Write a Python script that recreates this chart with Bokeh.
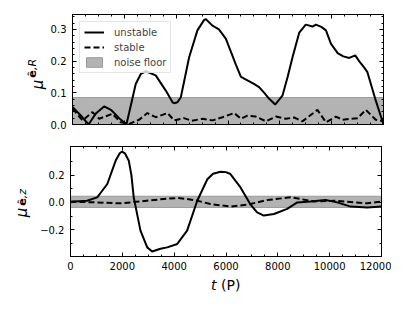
import numpy as np
from bokeh.plotting import figure
from bokeh.layouts import column, row
from bokeh.models import (Range1d, LinearAxis, SingleIntervalTicker, FixedTicker,
                          CustomJSTickFormatter, Legend, LegendItem, Label)
from bokeh.embed import file_html
from bokeh.resources import INLINE

FONT = "DejaVu Sans"

# ---------------- data ----------------
t_span = [0, 12000]

tR_unstable = [0, 300, 620, 900, 1220, 1500, 1800, 2080, 2250, 2440, 2640, 2830, 3210, 3600,
               3860, 3920, 4050, 4180, 4500, 4820, 5080, 5150, 5400, 5650, 5920, 6300, 6500,
               6750, 7000, 7200, 7400, 7590, 7820, 8100, 8300, 8490, 8750, 9000, 9260, 9390,
               9600, 9780, 9970, 10230, 10450, 10680, 10910, 11060, 11250, 11380, 11700, 12000]
muR_unstable = [0.055, 0.030, 0.000, 0.035, 0.057, 0.045, 0.020, 0.000, 0.060, 0.128, 0.160,
                0.168, 0.155, 0.107, 0.070, 0.067, 0.070, 0.086, 0.212, 0.297, 0.330, 0.332,
                0.312, 0.300, 0.270, 0.190, 0.150, 0.139, 0.128, 0.118, 0.100, 0.081, 0.063,
                0.091, 0.150, 0.212, 0.290, 0.315, 0.309, 0.315, 0.308, 0.297, 0.255, 0.225,
                0.215, 0.210, 0.218, 0.200, 0.180, 0.165, 0.076, 0.000]

tR_stable = [0, 386, 770, 1030, 1540, 1860, 2190, 2570, 2890, 3210, 3670, 3920, 4300, 4600,
             5020, 5400, 5790, 6240, 6500, 6750, 7070, 7460, 7850, 8230, 8550, 8870, 9450,
             9780, 10160, 10420, 10740, 11000, 11320, 11700, 12000]
muR_stable = [0.050, 0.013, 0.039, 0.018, 0.034, 0.007, 0.002, 0.015, 0.036, 0.023, 0.036,
              0.013, 0.020, 0.012, 0.018, 0.013, 0.023, 0.036, 0.018, 0.028, 0.025, 0.010,
              0.025, 0.018, 0.022, 0.010, 0.046, 0.007, 0.025, 0.015, 0.018, 0.020, 0.046,
              0.015, 0.010]

tz_unstable = [0, 640, 1030, 1420, 1740, 1900, 1990, 2100, 2250, 2350, 2440, 2700, 2960, 3150,
               3470, 3730, 4120, 4500, 4890, 5280, 5500, 5790, 6000, 6170, 6560, 6950, 7200,
               7460, 7850, 8360, 8750, 9260, 9840, 10290, 10810, 11450, 12000]
muz_unstable = [0.005, 0.012, 0.037, 0.135, 0.305, 0.360, 0.373, 0.360, 0.305, 0.200, 0.037,
                -0.207, -0.330, -0.360, -0.340, -0.330, -0.305, -0.207, 0.012, 0.170, 0.210,
                0.225, 0.222, 0.208, 0.110, -0.017, -0.073, -0.097, -0.085, -0.048, 0.000,
                0.007, 0.017, 0.000, -0.031, -0.037, -0.031]

tz_stable = [0, 1000, 1930, 2700, 3600, 4120, 4500, 4890, 5400, 6170, 6820, 7590, 8490, 8870,
             9390, 10160, 10930, 11450, 12000]
muz_stable = [0.005, 0.000, -0.007, 0.007, 0.025, 0.032, 0.025, 0.012, -0.012, -0.031, -0.017,
              0.017, 0.037, 0.025, 0.007, 0.012, 0.000, -0.007, 0.007]

noise_R = (0.0, 0.085)
noise_z = (-0.037, 0.045)

x_ticks_major = 2000
yR_major = 0.1
yz_major = [-0.2, 0.0, 0.2]
yz_minor = [-0.3, -0.1, 0.1, 0.3]

# ---------------- helpers ----------------
BAND_FILL = "#b3b3b3"
BAND_LINE = "#9a9a9a"

num_fmt = CustomJSTickFormatter(code="""
const v = Math.round(tick*10)/10;
const s = Math.abs(v).toFixed(1);
return (v < 0 ? "\\u2212" : "") + s;
""")
blank_fmt = CustomJSTickFormatter(code="return '';")


def style_axis(ax, ticker, show_labels, fmt=None):
    ax.ticker = ticker
    ax.major_tick_in = 4
    ax.major_tick_out = 0
    ax.minor_tick_in = 2
    ax.minor_tick_out = 0
    ax.major_tick_line_color = "black"
    ax.minor_tick_line_color = "black"
    ax.axis_line_color = "black"
    if show_labels:
        ax.formatter = fmt
        ax.major_label_text_font = FONT
        ax.major_label_text_font_size = "10px"
        ax.major_label_text_color = "black"
    else:
        ax.formatter = blank_fmt
        ax.major_label_standoff = 0
        ax.major_label_text_font_size = "1px"


def make_fig(yr, left, top, bottom, ytick, xlabels):
    p = figure(frame_width=311, frame_height=110, x_range=Range1d(*t_span),
               y_range=Range1d(*yr), output_backend="svg", toolbar_location=None,
               min_border_left=left, min_border_right=10, min_border_top=top,
               min_border_bottom=bottom, x_axis_location=None, y_axis_location=None)
    p.grid.visible = False
    p.outline_line_color = "black"
    p.outline_line_width = 1
    p.background_fill_color = "white"
    p.border_fill_color = "white"
    xt = lambda: SingleIntervalTicker(interval=x_ticks_major, num_minor_ticks=4)
    bx = LinearAxis()
    style_axis(bx, xt(), xlabels, CustomJSTickFormatter(code="return tick.toFixed(0);"))
    if xlabels:
        bx.major_label_standoff = 5
    p.add_layout(bx, "below")
    ax_top = LinearAxis()
    style_axis(ax_top, xt(), False)
    p.add_layout(ax_top, "above")
    ly = LinearAxis()
    style_axis(ly, ytick(), True, num_fmt)
    ly.major_label_standoff = 6
    p.add_layout(ly, "left")
    ry = LinearAxis()
    style_axis(ry, ytick(), False)
    p.add_layout(ry, "right")
    return p


def text_fig(w, h):
    f = figure(frame_width=w, frame_height=h, output_backend="svg", toolbar_location=None,
               min_border=0, x_axis_location=None, y_axis_location=None,
               x_range=Range1d(0, 1), y_range=Range1d(0, 1))
    f.grid.visible = False
    f.outline_line_color = None
    f.background_fill_color = "white"
    f.border_fill_color = "white"
    return f


def add_label(f, x, y, text, size, style, angle=0.0, align="center"):
    f.add_layout(Label(x=x, y=y, x_units="screen", y_units="screen", text=text,
                       angle=angle, text_align=align, text_baseline="middle",
                       text_font=FONT, text_font_size=size, text_font_style=style,
                       text_color="black"))


def band(p, lo_hi):
    lo, hi = lo_hi
    return p.hbar(y=[(lo + hi) / 2], height=[hi - lo], left=[t_span[0]], right=[t_span[1]],
                  fill_color=BAND_FILL, line_color=BAND_LINE, line_width=1)


# ---------------- top panel ----------------
H1 = 14 + 110 + 11
p1 = make_fig((0.0, 0.347), 23, 14, 11,
              lambda: SingleIntervalTicker(interval=yR_major, num_minor_ticks=5), False)
b1 = band(p1, noise_R)
l1 = p1.line(tR_unstable, muR_unstable, line_color="black", line_width=2)
d1 = p1.line(tR_stable, muR_stable, line_color="black", line_width=2, line_dash="6 3")
leg = Legend(items=[LegendItem(label="unstable", renderers=[l1]),
                    LegendItem(label="stable", renderers=[d1]),
                    LegendItem(label="noise floor", renderers=[b1])],
             location="top_left", margin=7, padding=4, spacing=3,
             glyph_width=20, glyph_height=12, label_height=12, label_standoff=10,
             label_text_font=FONT, label_text_font_size="10px",
             border_line_color="#cccccc", border_line_width=1,
             background_fill_color="white", background_fill_alpha=0.8)
p1.add_layout(leg)

lab1 = text_fig(47, H1)
add_label(lab1, 37.5, H1 - 70, "\u03bc", "15px", "italic", np.pi / 2)
add_label(lab1, 31.5, H1 - 59.5, "\u00ea", "11px", "bold", np.pi / 2)
add_label(lab1, 31.5, H1 - 50, ",R", "11px", "italic", np.pi / 2)

# ---------------- bottom panel ----------------
H2 = 11 + 110 + 20
p2 = make_fig((-0.397, 0.41), 33, 11, 20,
              lambda: FixedTicker(ticks=yz_major, minor_ticks=yz_minor), True)
band(p2, noise_z)
p2.line(tz_unstable, muz_unstable, line_color="black", line_width=2)
p2.line(tz_stable, muz_stable, line_color="black", line_width=2, line_dash="6 3")

lab2 = text_fig(37, H2)
top2 = H1
add_label(lab2, 21.5, top2 + H2 - 201, "\u03bc", "15px", "italic", np.pi / 2)
add_label(lab2, 22, top2 + H2 - 190.5, "\u00ea", "11px", "bold", np.pi / 2)
add_label(lab2, 22, top2 + H2 - 182, ",z", "11px", "italic", np.pi / 2)

# ---------------- x-axis title ----------------
H3 = 24
xlab = text_fig(391, H3)
add_label(xlab, 210.5, H3 - 8, "t", "14px", "italic", align="left")
add_label(xlab, 220.5, H3 - 8, "(P)", "14px", "normal", align="left")

layout = column(row(lab1, p1, spacing=0), row(lab2, p2, spacing=0), xlab, spacing=0)
open("out.html", "w").write(file_html(layout, INLINE))
